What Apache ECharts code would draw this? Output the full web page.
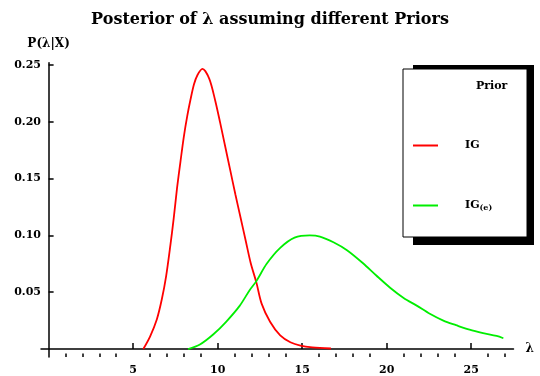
<!DOCTYPE html>
<html>
<head>
<meta charset="utf-8">
<title>Posterior of lambda</title>
<script src="https://cdn.jsdelivr.net/npm/echarts@6/dist/echarts.min.js"></script>
<style>
  html, body { margin: 0; padding: 0; background: #fff; }
  #main { width: 540px; height: 376px; }
</style>
</head>
<body>
<div id="main"></div>
<script>
// posterior with IG prior (red)
var lambdaIG  = [5.6, 6.0, 6.4, 6.7, 6.95, 7.2, 7.4, 7.6, 7.8, 8.0, 8.2, 8.4, 8.6, 8.8, 9.1, 9.5, 9.85, 10.15, 10.45, 10.75, 11.05, 11.35, 11.65, 11.95, 12.3, 12.6, 13.1, 13.7, 14.3, 14.9, 15.6, 16.7];
var densityIG = [0, 0.011, 0.026, 0.044, 0.064, 0.091, 0.115, 0.142, 0.165, 0.187, 0.205, 0.220, 0.233, 0.241, 0.2465, 0.238, 0.219, 0.199, 0.178, 0.157, 0.136, 0.116, 0.096, 0.076, 0.058, 0.040, 0.024, 0.012, 0.006, 0.003, 0.0015, 0.0005];
// posterior with IG(e) prior (green)
var lambdaIGe  = [8.25, 8.95, 9.75, 10.5, 11.3, 11.9, 12.3, 12.9, 13.7, 14.55, 15.45, 16.05, 16.85, 17.65, 18.6, 19.4, 20.2, 21.0, 21.8, 22.55, 23.35, 24.1, 24.9, 25.7, 26.5, 26.9];
var densityIGe = [0, 0.004, 0.013, 0.024, 0.038, 0.052, 0.060, 0.075, 0.089, 0.098, 0.100, 0.099, 0.094, 0.087, 0.0755, 0.0645, 0.054, 0.045, 0.038, 0.031, 0.025, 0.021, 0.017, 0.014, 0.0115, 0.0095];

var xMajor = [5, 10, 15, 20, 25];
var yMajor = [0.05, 0.10, 0.15, 0.20, 0.25];
var xMinor = [];
for (var i = 1; i <= 27; i++) { if (i % 5 !== 0) xMinor.push(i); }

function pairs(xs, ys) {
  var out = [];
  for (var i = 0; i < xs.length; i++) out.push([xs[i], ys[i]]);
  return out;
}

var serif = 'DejaVu Serif';
var chart = echarts.init(document.getElementById('main'));

var option = {
  animation: false,
  backgroundColor: '#fff',
  title: [{
    text: 'Posterior of λ assuming different Priors',
    left: 'center', top: 7,
    textStyle: { fontFamily: serif, fontWeight: 'bold', fontSize: 16, color: '#000' }
  }, {
    text: 'Prior',
    left: 471, top: 76,
    textStyle: { fontFamily: serif, fontWeight: 'bold', fontSize: 11, color: '#000' }
  }],
  graphic: [
    { type: 'rect', shape: { x: 413, y: 65, width: 121, height: 180 }, style: { fill: '#000' }, z: 0 },
    { type: 'rect', shape: { x: 403, y: 69, width: 124, height: 168 }, style: { fill: '#fff', stroke: '#000', lineWidth: 1 }, z: 1 }
  ],
  legend: {
    orient: 'vertical',
    left: 408, top: 135,
    itemWidth: 25, itemHeight: 2,
    itemGap: 49,
    icon: 'rect',
    z: 10,
    data: ['IG', 'IG(e)'],
    formatter: function (name) {
      return name === 'IG' ? '{a|IG}' : '{a|IG}{b|(e)}';
    },
    textStyle: {
      padding: [0, 0, 0, 22],
      rich: {
        a: { fontFamily: serif, fontWeight: 'bold', fontSize: 11, color: '#000' },
        b: { fontFamily: serif, fontWeight: 'bold', fontSize: 8, color: '#000', verticalAlign: 'bottom', padding: [5, 0, 0, 0] }
      }
    }
  },
  grid: { left: 41, right: 26.5, top: 62.7, bottom: 18 },
  xAxis: [{
    type: 'value',
    min: -0.45, max: 27.5,
    name: 'λ', nameLocation: 'end', nameGap: 12,
    nameTextStyle: { fontFamily: serif, fontWeight: 'bold', fontSize: 12, color: '#000', verticalAlign: 'middle' },
    axisLine: { show: true, onZero: true, lineStyle: { color: '#000', width: 1.5 } },
    axisTick: { show: true, inside: true, length: 6, customValues: xMajor, lineStyle: { color: '#000', width: 1.5 } },
    axisLabel: { customValues: xMajor, margin: 8, fontFamily: serif, fontWeight: 'bold', fontSize: 11, color: '#000' },
    splitLine: { show: false }
  }, {
    type: 'value',
    position: 'bottom',
    min: -0.45, max: 27.5,
    axisLine: { show: true, onZero: true, lineStyle: { color: '#000', width: 1.5, opacity: 0 } },
    axisTick: { show: true, inside: true, length: 3.5, customValues: xMinor, lineStyle: { color: '#000', width: 1.5 } },
    axisLabel: { show: false },
    splitLine: { show: false }
  }],
  yAxis: {
    type: 'value',
    min: -0.007, max: 0.252,
    name: 'P(λ|X)', nameLocation: 'end', nameGap: 13,
    nameTextStyle: { fontFamily: serif, fontWeight: 'bold', fontSize: 12, color: '#000', align: 'center' },
    axisLine: { show: true, onZero: true, lineStyle: { color: '#000', width: 1.5 } },
    axisTick: { show: true, inside: true, length: 5, customValues: yMajor, lineStyle: { color: '#000', width: 1.5 } },
    axisLabel: {
      customValues: yMajor, margin: 0,
      fontFamily: serif, fontWeight: 'bold', fontSize: 11, color: '#000',
      formatter: function (v) { return v.toFixed(2); }
    },
    splitLine: { show: false }
  },
  series: [{
    name: 'IG',
    type: 'line',
    smooth: 0.3,
    showSymbol: false,
    clip: true,
    data: pairs(lambdaIG, densityIG),
    lineStyle: { color: '#ff0000', width: 1.8 },
    itemStyle: { color: '#ff0000' }
  }, {
    name: 'IG(e)',
    type: 'line',
    smooth: 0.3,
    showSymbol: false,
    clip: true,
    data: pairs(lambdaIGe, densityIGe),
    lineStyle: { color: '#00ee00', width: 1.8 },
    itemStyle: { color: '#00ee00' }
  }]
};

chart.setOption(option);
</script>
</body>
</html>
